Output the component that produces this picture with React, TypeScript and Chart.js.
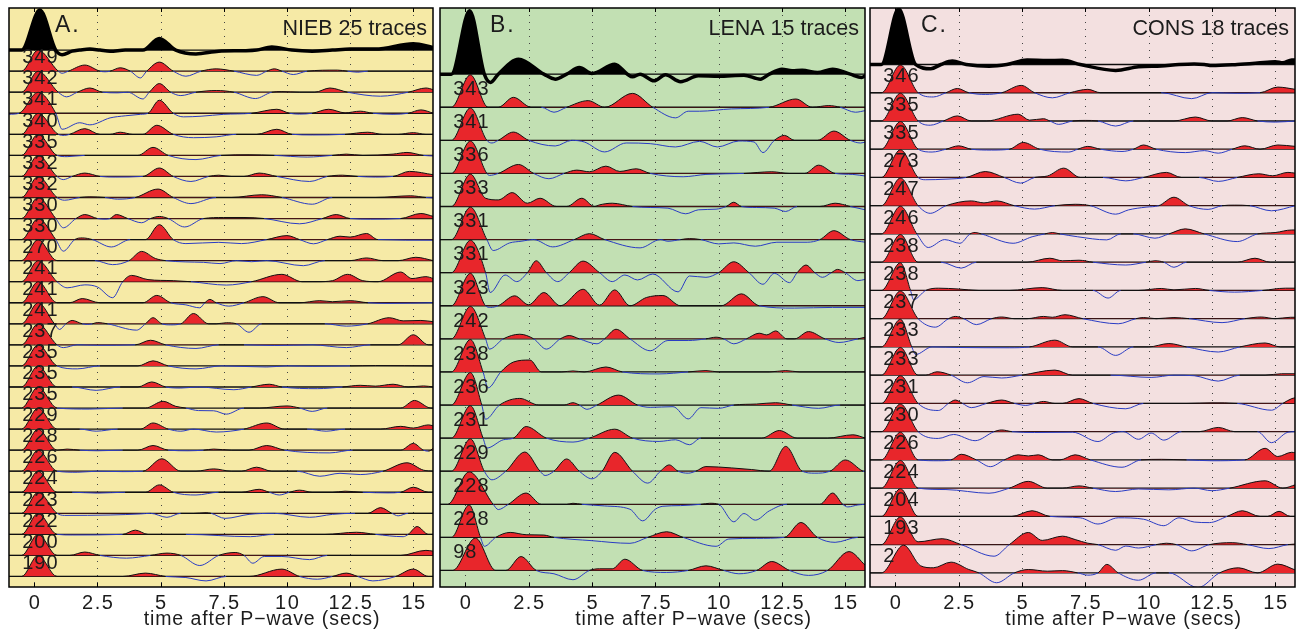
import React, { useEffect, useRef } from "react";
import { Chart, registerables } from "chart.js";
Chart.register(...registerables);

type Pt = [number, number];

// ---------- axis ----------
const xTicks = [0, 2.5, 5, 7.5, 10, 12.5, 15];
const xMin = -1;
const xMax = 15.78;
const xTitle = "time after P\u2212wave (secs)";

// ---------- panel A: NIEB ----------
const niebLabels = ["349", "342", "341", "340", "335", "332", "332", "330", "330", "270", "241", "241", "241", "237", "235", "235", "235", "229", "228", "226", "224", "223", "222", "200", "190"];
const niebStack: Pt[] = [[-1, 0], [-0.5, 0], [0.22, 1.9], [0.85, 0], [1.1, -0.22], [1.5, -0.05], [1.8, 0], [2.2, 0.05], [2.6, 0], [3.0, -0.05], [3.6, 0], [4.3, 0], [4.95, 0.55], [5.6, 0], [6.4, -0.18], [7.3, -0.05], [8.3, -0.03], [8.8, 0], [9.4, 0.15], [10.2, 0], [11, -0.05], [11.8, 0], [12.5, 0.05], [13.5, 0.05], [15, 0.3], [15.8, 0.12]];
const niebTraces: Pt[][] = [
  [[-1, 0], [-0.5, 0], [0.15, 1], [0.95, 0], [1.1, -0.1], [1.35, 0], [2.0, 0.29], [2.6, 0], [2.8, -0.03], [3.0, 0], [3.4, 0.16], [3.8, 0], [4.2, -0.32], [4.45, 0], [4.95, 0.43], [5.5, 0], [6.0, -0.24], [6.6, 0], [7.2, 0.11], [7.9, 0], [8.8, -0.2], [9.2, 0], [9.5, 0.11], [9.8, 0], [10.25, -0.16], [10.8, 0], [12.0, 0.05], [12.4, 0], [12.8, -0.05], [13.2, 0], [15.8, 0]],
  [[-1, 0], [-0.5, 0], [0.15, 1], [0.95, 0], [1.28, -0.22], [1.7, 0], [2.2, 0.2], [2.7, 0], [3.3, -0.03], [3.7, 0], [4.3, -0.32], [4.55, 0], [4.95, 0.41], [5.4, 0], [5.8, -0.16], [6.4, 0], [7.2, 0.08], [7.9, 0], [8.75, -0.3], [9.4, 0], [9.8, 0.03], [10.5, 0], [11.1, 0], [11.7, 0.2], [12.4, 0], [13.7, -0.19], [14.8, 0], [15.5, 0.2], [15.8, 0.12]],
  [[-1, -0.05], [-0.6, 0], [0.15, 1], [0.85, 0], [1.1, -0.76], [1.8, -0.45], [2.2, -0.55], [3.0, -0.22], [3.6, -0.12], [4.2, -0.05], [4.5, 0], [4.95, 0.62], [5.5, 0], [5.9, -0.17], [6.6, -0.14], [7.5, -0.05], [8.6, 0], [9.6, 0.19], [10.1, 0], [10.5, -0.04], [11.0, 0], [11.65, 0.19], [12.3, 0.02], [12.9, 0.1], [13.4, 0], [14.2, -0.05], [14.8, 0], [15.3, 0.16], [15.8, 0]],
  [[-1, 0], [-0.5, 0], [0.15, 1], [0.95, 0], [1.2, -0.05], [1.4, 0], [2.0, 0.27], [2.6, 0], [3.0, 0], [3.4, 0.1], [3.9, 0], [4.3, 0], [4.85, 0.43], [5.5, 0], [6.3, -0.16], [7.2, -0.12], [8.0, 0], [8.8, 0], [9.6, 0.24], [10.2, 0], [11, -0.03], [12.3, 0], [13.2, 0.1], [13.8, 0], [14.4, 0], [15, 0.08], [15.5, 0], [15.8, 0]],
  [[-1, 0], [-0.5, 0], [0.15, 1], [0.9, 0], [1.3, -0.06], [2.0, 0], [4.1, 0], [4.7, 0.38], [5.3, 0], [6.4, -0.2], [7.4, 0], [8.5, 0.03], [9.5, 0], [10.8, -0.08], [11.8, 0], [12.35, 0.06], [13, 0], [14.2, 0.06], [14.75, 0.14], [15.4, 0], [15.8, -0.03]],
  [[-1, 0], [-0.5, 0], [0.15, 1], [0.9, 0], [1.15, -0.15], [1.5, 0], [2.0, 0.16], [2.6, 0], [3.2, -0.03], [4.3, 0], [4.95, 0.4], [5.5, 0], [6.2, -0.24], [6.9, 0], [7.3, 0.06], [7.8, 0], [8.3, 0], [8.9, 0.16], [9.6, 0], [10.9, -0.24], [11.6, 0], [12.2, 0.06], [12.8, 0], [13.5, -0.03], [14.2, 0], [14.85, 0.24], [15.8, 0.08]],
  [[-1, 0], [-0.5, 0], [0.15, 1], [0.9, 0], [1.2, -0.13], [1.8, 0], [2.2, 0.03], [2.8, 0], [3.3, -0.08], [4.0, 0], [4.9, 0.4], [5.5, 0], [6.2, -0.29], [7.2, 0], [7.8, 0], [9.0, 0.13], [9.8, 0], [11.0, -0.32], [11.8, 0], [13.5, 0], [14.9, 0.08], [15.5, 0], [15.8, -0.02]],
  [[-1, 0], [-0.5, 0], [0.15, 1], [0.85, 0], [1.15, -0.44], [1.65, 0], [2.0, 0.19], [2.5, 0], [2.8, -0.03], [3.0, 0], [3.25, 0.19], [3.7, 0], [4.25, -0.2], [4.6, 0], [4.95, 0.1], [5.3, 0], [5.95, -0.4], [6.7, 0], [7.5, 0.05], [8.3, 0.05], [9.1, 0], [10.5, -0.25], [11.4, 0], [11.95, 0.19], [12.5, 0], [13.3, -0.03], [14.5, 0], [15.3, 0.24], [15.8, 0.1]],
  [[-1, 0], [-0.5, 0], [0.15, 1], [0.85, 0], [1.15, -0.55], [1.6, 0], [1.9, 0.08], [2.3, 0], [3.05, -0.35], [3.8, 0], [4.4, 0], [4.95, 0.71], [5.5, 0], [6.0, -0.19], [7.3, -0.13], [8.2, -0.19], [9.2, 0], [10.0, 0.19], [10.5, 0], [11.05, -0.2], [11.6, 0], [12.1, 0.16], [12.5, 0.12], [13.15, 0.29], [13.6, 0], [15.8, -0.03]],
  [[-1, 0], [-0.5, 0], [0.15, 1], [0.9, 0], [1.5, 0], [2.4, 0], [3.1, -0.19], [3.75, 0], [4.25, 0.44], [4.8, 0.1], [5.2, 0], [6.0, -0.06], [6.7, -0.08], [7.35, -0.14], [8.0, 0], [8.6, -0.05], [9.2, 0], [10.65, -0.24], [11.5, 0], [12.5, 0], [13.15, 0.13], [13.8, 0], [14.4, 0], [15.1, 0.16], [15.8, 0]],
  [[-1, 0], [-0.5, 0], [0.15, 1], [0.9, 0], [1.3, -0.29], [2.0, -0.15], [2.5, -0.25], [3.1, -0.76], [3.5, 0], [3.85, 0.3], [4.5, 0.1], [5.5, 0.05], [6.2, 0], [7.6, -0.16], [8.6, 0], [9.8, 0.35], [10.6, 0], [11.2, 0], [11.8, 0.05], [12.4, 0.35], [13, 0.05], [13.6, 0], [14.5, 0.46], [14.95, 0.15], [15.5, 0.24], [15.8, 0.15]],
  [[-1, 0], [-0.5, 0], [0.15, 1], [0.9, 0], [1.4, 0], [1.9, 0.2], [2.6, 0], [4.3, 0], [4.85, 0.35], [5.4, 0], [6.0, -0.1], [6.55, -0.24], [6.75, 0], [6.95, 0.16], [7.2, 0], [7.7, -0.16], [8.3, 0], [9.05, 0.29], [9.7, 0], [10.5, 0], [11.3, 0.1], [11.8, 0.05], [12.5, 0.1], [13.2, 0], [14.0, -0.03], [15.8, 0]],
  [[-1, 0], [-0.5, 0], [0.15, 1], [0.8, 0], [1.0, -0.27], [1.25, 0], [1.5, 0.16], [1.9, 0], [2.1, -0.03], [2.3, 0], [2.5, 0.06], [2.9, 0], [4.05, -0.3], [4.4, 0], [4.7, 0.29], [5.05, 0], [5.4, -0.05], [5.8, 0], [6.3, 0.49], [6.9, 0], [7.2, 0], [7.6, 0.05], [8.0, 0], [8.5, -0.4], [9.0, 0], [11.5, 0], [12.35, -0.11], [13.2, 0], [14.05, 0.29], [14.6, 0.14], [15.3, 0.16], [15.8, 0.1]],
  [[-1, 0], [-0.5, 0], [0.15, 1], [0.9, 0], [1.15, -0.13], [1.7, 0], [2.5, -0.02], [4.0, 0], [4.6, 0.22], [5.2, 0], [6.4, -0.17], [7.3, 0], [8.3, 0], [9.5, -0.03], [11, 0], [12.35, -0.13], [13.3, 0], [14.4, 0], [15.0, 0.48], [15.6, 0], [15.8, 0]],
  [[-1, 0], [-0.5, 0], [0.15, 1], [0.9, 0], [1.7, -0.14], [2.6, 0], [4.1, 0], [4.7, 0.24], [5.3, 0], [6.4, -0.14], [7.4, 0], [9.2, -0.05], [10, 0], [11, -0.02], [12.5, 0], [13.5, 0.02], [15.8, 0]],
  [[-1, 0], [-0.5, 0], [0.15, 1], [0.9, 0], [1.5, 0], [2.45, -0.16], [3.4, 0], [4.1, 0], [4.65, 0.24], [5.2, 0], [5.8, -0.05], [6.5, 0], [7.9, -0.13], [8.6, 0], [9.3, 0.13], [9.8, 0], [11.2, -0.08], [12.2, 0], [12.9, 0.08], [13.5, 0.04], [14.2, 0.13], [14.8, 0], [15.4, 0.05], [15.8, 0]],
  [[-1, 0], [-0.5, 0], [0.15, 1], [0.9, 0], [2.2, -0.05], [3.5, 0], [4.4, 0], [5.1, 0.32], [5.6, 0.08], [6.0, 0], [6.5, -0.12], [7.1, -0.13], [7.6, -0.29], [8.3, 0], [8.9, 0], [10.0, 0.1], [10.5, 0], [11.0, -0.16], [11.6, 0], [14.5, 0], [15.05, 0.36], [15.7, 0], [15.8, 0]],
  [[-1, 0], [-0.5, 0], [0.15, 1], [0.9, 0], [1.8, 0], [2.45, -0.1], [3.3, 0], [4.2, 0], [4.7, 0.29], [5.3, 0], [5.8, -0.1], [6.3, 0], [7.2, -0.14], [8.3, 0], [9.2, 0.29], [9.9, 0], [10.8, 0], [11.55, -0.1], [12.3, 0], [13.7, 0], [14.5, 0.13], [15.0, 0.05], [15.6, 0.2], [15.8, 0.15]],
  [[-1, 0], [-0.5, 0], [0.15, 1], [0.9, 0], [1.3, 0.05], [1.8, 0], [2.5, -0.03], [3.5, 0], [4.1, 0], [4.7, 0.22], [5.3, 0], [6.1, -0.03], [6.7, 0], [7.1, 0.05], [7.8, 0], [8.5, 0], [9.2, 0.22], [9.9, 0], [11.7, -0.13], [12.6, 0], [14.5, 0], [15.0, 0.32], [15.4, 0], [15.6, -0.05], [15.8, 0.1]],
  [[-1, 0], [-0.5, 0], [0.15, 1], [0.9, 0], [1.7, -0.05], [2.5, 0], [3.5, -0.02], [4.3, 0], [5.05, 0.59], [5.8, 0], [6.4, 0], [7.1, 0.11], [7.8, 0], [8.2, 0], [8.8, 0.19], [9.4, 0], [10.4, 0], [11.3, -0.24], [12.1, -0.1], [12.9, -0.16], [13.8, 0], [14.75, 0.4], [15.4, 0.05], [15.8, 0]],
  [[-1, 0], [-0.5, 0], [0.15, 1], [0.9, 0], [1.5, 0], [2.5, -0.04], [3.6, 0], [4.4, 0], [4.95, 0.35], [5.5, 0], [6.4, -0.13], [7.3, 0], [8.2, 0], [8.9, 0.14], [9.3, 0], [9.7, -0.13], [10.1, 0], [10.5, 0.1], [11, 0], [11.8, 0], [12.3, 0.05], [13, 0], [14.0, -0.03], [14.5, 0], [15.0, 0.24], [15.6, 0], [15.8, 0]],
  [[-1, 0], [-0.5, 0], [0.15, 1], [0.9, 0], [1.2, -0.1], [3.0, -0.08], [4.2, -0.03], [4.6, 0], [5.25, -0.19], [5.8, 0], [6.3, 0], [6.8, 0.03], [7.0, 0], [7.55, -0.24], [8.5, -0.05], [9.5, 0], [10.9, -0.19], [11.8, -0.05], [12.7, 0], [13.2, 0], [13.7, 0.27], [14.15, 0], [14.4, -0.12], [14.8, 0], [15.8, 0]],
  [[-1, 0], [-0.5, 0], [0.15, 1], [0.9, 0], [1.5, -0.03], [3.5, 0], [4.0, 0.2], [4.5, 0], [6.0, 0], [8.55, -0.11], [9.5, 0], [11.5, 0], [12.75, 0.1], [13.5, 0], [14.6, -0.11], [14.8, 0], [15.15, 0.37], [15.6, 0], [15.8, 0]],
  [[-1, 0], [-0.5, 0], [0.15, 1], [0.9, 0], [1.4, 0], [2.0, 0.16], [2.6, 0], [3.65, -0.13], [4.6, 0], [5.25, 0.11], [5.8, 0], [6.55, -0.48], [7.3, 0], [7.95, 0.14], [8.3, 0], [8.65, -0.37], [9.1, -0.05], [9.8, -0.05], [10.9, -0.2], [11.6, 0], [14.5, 0], [15.5, 0.24], [15.8, 0.2]],
  [[-1, 0], [-0.5, 0], [0.15, 1], [0.9, 0], [2, 0], [3.5, 0], [4.4, 0.16], [5.2, 0], [6.0, -0.05], [6.8, -0.21], [7.6, 0], [8.5, 0], [9.8, 0.35], [10.5, 0], [11.2, -0.13], [11.8, 0], [12.35, 0.16], [12.8, 0], [13.4, -0.21], [14.3, 0], [15.0, 0.35], [15.6, 0], [15.8, 0]],
];

// ---------- panel B: LENA ----------
const lenaLabels = ["343", "341", "336", "333", "331", "331", "323", "242", "238", "236", "231", "229", "228", "228", "98"];
const lenaStack: Pt[] = [[-1, 0], [-0.55, 0], [0.17, 1.92], [0.75, 0], [1.0, -0.25], [1.3, 0], [2.1, 0.45], [3.1, 0], [3.55, -0.15], [4.0, 0], [4.5, 0.2], [5.0, 0.02], [5.9, 0.3], [6.4, 0], [6.6, -0.08], [6.9, 0], [7.45, -0.2], [7.9, -0.02], [8.5, -0.23], [9.2, -0.05], [10, -0.06], [11, -0.03], [11.65, -0.15], [12.0, 0], [12.5, 0.15], [12.9, 0.1], [13.3, 0.12], [13.9, 0.05], [14.5, 0.15], [15.2, 0], [15.65, -0.1], [15.8, -0.05]];
const lenaTraces: Pt[][] = [
  [[-1, 0], [-0.55, 0], [0.2, 0.98], [0.9, 0], [1.3, 0], [1.9, 0.3], [2.6, 0], [3.0, 0], [3.5, -0.15], [4.0, 0], [4.85, 0.2], [5.5, 0], [6.6, 0.42], [7.4, 0], [8.3, -0.32], [8.8, -0.12], [9.25, -0.12], [10.5, -0.05], [12, 0], [13.05, 0.25], [13.7, 0], [14.35, 0.05], [14.8, 0], [15.4, -0.15], [15.8, -0.1]],
  [[-1, 0], [-0.55, 0], [0.2, 0.98], [0.85, 0], [1.05, -0.08], [1.3, 0], [1.9, 0.25], [2.5, 0], [3.55, -0.17], [4.2, 0], [4.7, -0.05], [5.5, -0.35], [6.35, -0.08], [7.3, -0.1], [8.3, -0.2], [9.25, -0.03], [9.95, -0.2], [10.8, -0.02], [11.4, -0.05], [11.75, -0.37], [12.2, 0], [12.6, 0.15], [13.0, 0], [13.9, 0], [14.55, 0.28], [15.2, 0], [15.6, -0.08], [15.8, -0.05]],
  [[-1, 0], [-0.55, 0], [0.2, 0.98], [0.85, 0], [0.95, -0.06], [1.3, 0], [2.1, 0.27], [2.7, 0], [3.3, -0.16], [3.9, 0], [4.4, 0.1], [4.9, 0.05], [5.55, 0.22], [6.1, 0.06], [6.75, 0.14], [7.3, 0], [8.6, -0.1], [9.5, -0.03], [11.0, 0], [12.1, 0.05], [12.8, 0], [13.4, 0], [13.95, 0.25], [14.6, 0], [15.3, -0.03], [15.8, -0.08]],
  [[-1, 0], [-0.55, 0], [0.2, 0.98], [0.8, 0.25], [1.3, 0.2], [1.85, 0.42], [2.45, 0.1], [2.95, 0.25], [3.6, 0], [4.0, 0], [4.6, 0.25], [5.1, 0], [5.3, 0.05], [5.8, 0.1], [6.6, 0], [7.3, -0.03], [8.0, -0.05], [8.7, -0.22], [9.2, -0.1], [9.9, -0.08], [10.3, 0], [10.6, 0.13], [10.9, 0], [11.5, -0.03], [12.2, -0.05], [12.65, -0.15], [13.1, 0], [14.0, 0], [14.6, 0.1], [15.2, 0], [15.8, -0.1]],
  [[-1, 0], [-0.55, 0], [0.2, 0.98], [0.85, 0], [1.1, -0.33], [1.75, -0.1], [2.2, -0.05], [2.7, 0], [3.45, -0.22], [4.3, 0], [4.9, 0.18], [5.5, 0], [6.9, -0.25], [7.7, 0], [8.0, -0.05], [8.5, 0], [8.85, 0.03], [9.3, 0], [10.0, -0.13], [10.6, -0.1], [11.45, -0.2], [12.3, -0.08], [13.5, -0.08], [14.0, 0], [14.55, 0.27], [15.2, 0], [15.8, -0.08]],
  [[-1, 0], [-0.55, 0], [0.2, 0.98], [0.8, 0], [0.98, -0.6], [1.57, -0.07], [2.03, -0.27], [2.45, 0], [2.8, 0.36], [3.2, 0], [3.65, -0.27], [4.1, 0], [4.65, 0.35], [5.3, 0], [5.8, -0.27], [6.3, -0.07], [6.8, -0.22], [7.4, -0.04], [8.4, -0.58], [8.85, -0.1], [9.5, -0.14], [10.0, 0], [10.6, 0.33], [11.2, 0], [11.75, -0.35], [12.2, -0.02], [12.8, -0.3], [13.1, 0], [13.45, 0.23], [13.8, 0], [14.1, -0.14], [14.45, 0], [14.7, 0.1], [15.0, 0], [15.5, -0.24], [15.8, -0.2]],
  [[-1, 0], [-0.55, 0], [0.2, 0.98], [0.8, 0], [1.0, -0.05], [1.3, 0], [1.95, 0.3], [2.5, 0.03], [3.1, 0.4], [3.75, 0], [4.65, 0.5], [5.3, 0.02], [5.9, 0.48], [6.5, 0], [7.15, 0.25], [7.8, 0.31], [8.5, 0], [10.1, 0], [10.9, 0.36], [11.6, 0], [13.0, -0.07], [14.5, -0.05], [15.8, -0.05]],
  [[-1, 0], [-0.55, 0], [0.2, 0.98], [0.8, 0], [0.95, -0.31], [1.5, 0], [2.15, 0.14], [2.7, 0], [3.2, -0.31], [3.75, 0], [4.1, 0.1], [4.5, 0], [5.2, -0.15], [5.5, 0], [5.95, 0.29], [6.5, 0], [7.3, -0.36], [8.0, -0.05], [8.8, -0.05], [9.5, 0], [9.9, 0.05], [10.2, 0], [10.6, -0.15], [11.1, 0], [11.6, 0.17], [11.9, 0.12], [12.25, 0.24], [12.7, 0], [13.0, 0], [13.55, 0.22], [14.2, 0], [14.75, -0.11], [15.5, 0], [15.8, 0.05]],
  [[-1, 0], [-0.55, 0], [0.2, 0.98], [0.7, 0], [0.9, -0.48], [1.4, 0], [1.9, 0.3], [2.55, 0.36], [3.0, 0], [3.8, 0], [4.25, 0.03], [4.7, 0], [5.55, 0.15], [6.2, 0], [7.65, -0.06], [8.8, 0], [9.5, 0.04], [10, 0], [12.0, 0], [12.65, 0.04], [13.2, 0], [15.8, 0]],
  [[-1, 0], [-0.55, 0], [0.2, 0.98], [0.65, 0], [0.8, -0.43], [1.35, 0], [2.15, 0.2], [2.9, 0], [3.9, 0], [4.25, 0.07], [4.5, 0], [4.8, -0.13], [5.2, 0], [6.05, 0.3], [6.8, 0], [7.3, -0.07], [8.2, -0.05], [8.8, -0.42], [9.3, -0.08], [10.0, -0.1], [10.6, 0], [11.5, 0.03], [12.25, 0.07], [12.9, 0], [13.95, -0.1], [14.8, 0], [15.8, 0]],
  [[-1, 0], [-0.55, 0], [0.2, 0.98], [0.7, 0], [0.85, -0.3], [1.5, -0.05], [1.9, 0], [2.4, 0.35], [3.2, 0], [4.25, -0.12], [4.9, 0], [5.9, 0.27], [6.6, 0], [7.65, -0.1], [8.3, -0.05], [8.85, -0.2], [9.3, 0], [11.7, 0], [12.4, 0.23], [13.1, 0], [14.3, 0], [15.3, 0.1], [15.8, 0]],
  [[-1, 0], [-0.55, 0], [0.2, 0.98], [0.75, 0], [1.05, -0.26], [1.6, 0], [2.35, 0.58], [2.95, 0], [3.15, -0.13], [3.5, 0], [4.0, 0.37], [4.5, 0], [5.0, -0.23], [5.4, 0], [5.9, 0.57], [6.6, 0], [7.2, -0.36], [7.7, 0], [8.05, 0.19], [8.4, 0], [8.8, -0.06], [9.1, 0], [9.5, 0.14], [10.5, 0.1], [11.3, 0.05], [12.0, 0], [12.65, 0.75], [13.3, 0], [13.8, -0.06], [14.4, 0], [15.0, 0.34], [15.7, 0], [15.8, -0.02]],
  [[-1, 0], [-0.7, 0], [0.15, 0.98], [1.1, 0], [1.3, -0.16], [1.7, 0], [2.4, 0.34], [3.0, 0], [4.0, 0], [4.25, 0.03], [4.6, 0], [5.5, -0.05], [6.5, -0.15], [7.0, -0.5], [7.5, -0.15], [7.8, -0.06], [8.5, -0.04], [9.3, 0], [9.65, 0.03], [10.0, 0], [10.6, -0.53], [11.0, -0.28], [11.45, -0.48], [12.0, -0.2], [12.7, 0], [14.0, 0], [14.5, 0.34], [14.9, 0], [15.1, -0.08], [15.5, -0.02], [15.8, 0]],
  [[-1, 0], [-0.55, 0], [0.15, 0.98], [0.6, 0], [0.75, -0.27], [1.2, 0], [1.77, 0.15], [2.4, 0.08], [3.1, 0.07], [3.5, 0], [5.0, -0.1], [6.5, -0.18], [7.2, 0], [7.95, 0.17], [8.6, 0], [9.9, -0.27], [10.4, -0.05], [11.5, -0.03], [12.6, 0], [13.25, 0.45], [13.9, 0], [14.6, -0.15], [15.5, 0], [15.8, 0]],
  [[-1, 0], [-0.5, 0], [0.4, 0.98], [1.2, 0], [1.6, 0], [2.2, 0.42], [2.8, 0], [3.5, -0.1], [4.25, -0.28], [4.9, 0], [5.3, 0.05], [5.8, 0.05], [6.3, 0.34], [7.0, 0], [7.95, -0.06], [8.8, 0], [9.5, 0.14], [10.2, 0], [10.8, -0.1], [11.5, 0], [12.1, 0.27], [12.8, 0], [13.55, -0.15], [14.3, 0], [15.15, 0.57], [15.8, 0.15]],
];

// ---------- panel C: CONS ----------
const consLabels = ["346", "335", "335", "273", "247", "246", "238", "238", "237", "233", "233", "231", "230", "226", "224", "204", "193", "2"];
const consStack: Pt[] = [[-1, 0], [-0.55, 0], [0.13, 1.97], [0.8, 0], [1.4, -0.15], [1.8, 0], [2.25, 0.12], [2.8, 0], [3.7, -0.06], [4.4, 0], [5.2, 0.16], [6.0, 0.14], [6.6, 0.15], [7.3, 0], [8.7, -0.21], [9.6, -0.08], [10.5, -0.05], [11.2, 0], [11.8, 0.02], [12.2, 0], [12.5, -0.04], [13.5, 0], [14.3, 0.05], [15.0, 0.1], [15.3, 0.06], [15.65, 0.16], [15.8, 0.16]];
const consTraces: Pt[][] = [
  [[-1, 0], [-0.55, 0], [0.2, 0.98], [0.9, 0], [1.5, -0.15], [2.0, 0], [2.45, 0.15], [2.9, 0], [3.55, -0.06], [4.2, 0], [4.97, 0.26], [5.5, 0], [6.2, -0.18], [6.9, 0], [7.6, 0.12], [8.1, 0], [9.0, 0], [10.5, 0], [11.7, -0.21], [12.5, 0], [13.5, -0.02], [14.4, 0], [15.1, 0.2], [15.8, 0.12]],
  [[-1, 0], [-0.55, 0], [0.2, 0.98], [0.9, 0], [1.38, -0.15], [1.9, 0], [2.45, 0.18], [3.0, 0], [3.6, 0], [4.85, 0.24], [5.3, 0.03], [5.85, 0.08], [6.1, 0], [6.45, -0.12], [7.0, 0], [7.5, 0.02], [8.0, 0], [8.7, -0.18], [9.4, 0], [11.0, 0], [11.85, 0.14], [12.5, 0], [13.1, 0], [13.7, 0.12], [14.3, 0], [15, -0.04], [15.8, 0]],
  [[-1, 0], [-0.55, 0], [0.2, 0.98], [0.9, 0], [1.45, -0.1], [2.0, 0], [2.5, 0.12], [3.0, 0], [3.8, -0.03], [4.5, 0], [5.05, 0.24], [5.7, 0], [6.85, -0.1], [7.2, 0], [7.6, 0.1], [8.1, 0], [8.95, -0.08], [9.4, 0], [9.8, 0.15], [10.3, 0], [11.45, -0.12], [12.2, -0.05], [12.75, -0.14], [13.3, 0], [13.8, 0.12], [14.4, 0], [15.1, 0.15], [15.8, 0.1]],
  [[-1, 0], [-0.55, 0], [0.2, 0.98], [0.9, 0], [1.2, -0.08], [2.0, -0.06], [2.8, 0], [3.55, 0.21], [4.3, 0], [4.95, -0.2], [5.5, 0], [6.0, 0.05], [6.65, 0.33], [7.3, 0], [8.2, 0], [9.1, -0.12], [9.8, 0], [10.7, 0.18], [11.3, 0], [12.0, 0], [12.75, -0.14], [13.5, 0], [14.35, 0.13], [14.9, 0.06], [15.5, 0.18], [15.8, 0.15]],
  [[-1, 0], [-0.55, 0], [0.2, 0.98], [0.9, 0], [1.38, -0.27], [2.0, 0], [3.0, 0.17], [3.5, 0.1], [4.0, 0.17], [4.7, 0], [5.5, -0.12], [6.3, 0], [7.1, 0.05], [7.7, 0], [8.7, -0.3], [9.2, -0.15], [9.9, -0.05], [10.4, 0], [11.0, 0.3], [11.6, 0], [12.35, -0.13], [12.9, 0], [13.4, 0.02], [14.0, 0], [14.85, -0.18], [15.8, 0]],
  [[-1, 0], [-0.55, 0], [0.2, 0.98], [0.85, 0], [1.3, -0.48], [1.95, -0.2], [2.55, -0.33], [2.95, 0], [3.15, 0.05], [3.4, 0], [4.65, -0.33], [5.4, -0.1], [5.9, 0], [6.2, 0.05], [6.5, 0], [7.2, -0.1], [8.35, -0.21], [8.9, 0], [9.4, 0], [10.25, -0.15], [10.8, 0], [11.45, 0.18], [12.2, 0], [13.5, -0.27], [14.3, 0], [15.0, 0.05], [15.65, 0.14], [15.8, 0.14]],
  [[-1, 0], [-0.55, 0], [0.2, 0.98], [0.9, 0], [1.8, 0], [2.6, -0.21], [3.2, 0], [5.2, 0], [6.1, 0.14], [6.6, 0.05], [7.25, 0.07], [7.8, 0], [9.1, -0.1], [9.9, 0], [10.25, 0.05], [10.6, 0], [11.0, -0.18], [11.5, 0], [13.5, 0], [14.2, 0.14], [14.8, 0], [15.8, 0]],
  [[-1, 0], [-0.55, 0], [0.2, 0.98], [0.6, 0], [0.72, -0.33], [1.2, 0], [1.7, 0.08], [2.5, 0.05], [3.3, 0], [4.5, 0], [5.8, 0.1], [6.6, 0], [7.8, 0], [8.4, -0.27], [8.9, 0], [9.6, 0], [10.5, 0.07], [11.0, 0.02], [11.85, 0.07], [12.4, 0], [13.4, -0.06], [14.5, 0], [15.4, 0.08], [15.8, 0.08]],
  [[-1, 0], [-0.55, 0], [0.2, 0.98], [0.9, 0], [1.58, -0.3], [2.1, 0], [2.37, 0.08], [2.7, 0], [3.2, -0.21], [3.8, 0], [4.2, 0.06], [4.7, 0], [5.2, 0], [5.85, 0.08], [6.2, 0.05], [6.7, 0.14], [7.4, 0], [8.8, -0.18], [9.5, 0], [9.8, 0.04], [10.3, 0], [11.0, 0.04], [11.6, 0], [12.9, -0.14], [13.8, 0], [14.45, 0.06], [15.0, 0], [15.6, 0.05], [15.8, 0.05]],
  [[-1, 0], [-0.55, 0], [0.2, 0.98], [0.65, 0], [0.8, -0.27], [1.45, 0], [2.5, -0.02], [4.5, -0.03], [5.3, 0], [6.3, 0.24], [7.0, 0], [8.0, 0], [8.7, -0.3], [9.4, 0], [10.0, 0], [10.8, 0.12], [11.5, 0], [12.75, -0.18], [13.6, 0], [14.6, 0.14], [15.2, 0], [15.8, 0]],
  [[-1, 0], [-0.55, 0], [0.2, 0.98], [0.9, 0], [1.2, 0], [1.65, 0.12], [2.2, 0], [2.85, -0.27], [3.5, -0.05], [4.2, -0.1], [5.0, 0], [6.3, 0.18], [7.0, 0], [8.5, 0], [10.1, -0.08], [11, 0], [11.8, -0.02], [12.75, -0.21], [13.6, 0], [14.6, 0], [15.25, 0.05], [15.8, 0.05]],
  [[-1, 0], [-0.55, 0], [0.2, 0.98], [0.9, 0], [1.7, -0.25], [2.1, 0], [2.37, 0.12], [2.65, 0], [3.0, -0.15], [3.6, 0], [4.2, 0.12], [4.7, 0], [5.15, -0.07], [5.5, 0], [5.85, 0.07], [6.3, 0], [6.6, 0], [7.25, 0.17], [7.8, 0], [9.1, -0.19], [9.8, 0], [11.5, 0], [12.5, 0.02], [13.5, 0], [14.85, -0.24], [15.3, 0], [15.65, 0.17], [15.8, 0.2]],
  [[-1, 0], [-0.55, 0], [0.2, 0.98], [0.9, 0], [1.7, -0.24], [2.3, -0.1], [3.15, -0.32], [3.9, 0], [4.2, 0.06], [4.6, 0], [5.5, -0.03], [7.0, -0.02], [8.0, -0.35], [8.6, -0.05], [9.0, 0], [9.6, -0.27], [10.1, -0.05], [10.6, -0.3], [11.3, 0], [12.0, 0], [12.75, 0.15], [13.4, 0], [14.3, 0], [14.85, -0.39], [15.5, -0.02], [15.8, 0]],
  [[-1, 0], [-0.55, 0], [0.2, 0.98], [0.9, 0], [1.7, -0.03], [2.2, 0], [2.6, 0.2], [3.2, 0], [3.75, -0.24], [4.3, 0], [4.85, 0.18], [5.25, 0.14], [5.65, 0.18], [6.2, 0], [6.5, 0], [7.1, 0.18], [7.7, 0], [8.95, -0.26], [9.7, 0], [10.5, 0.02], [11.5, 0], [12.5, -0.03], [13.8, 0], [14.6, 0.41], [15.1, 0.12], [15.65, 0.27], [15.8, 0.25]],
  [[-1, 0], [-0.55, 0], [0.2, 0.98], [0.9, 0], [2.0, -0.05], [3.7, -0.18], [4.5, 0], [5.25, 0.24], [6.0, 0], [6.6, 0], [7.25, 0.08], [7.8, 0], [8.7, -0.12], [9.6, -0.03], [10.8, -0.06], [11.8, 0], [12.5, -0.09], [13.2, 0], [14.6, 0.26], [15.3, 0], [15.8, 0.12]],
  [[-1, 0], [-0.55, 0], [0.2, 0.98], [0.9, 0], [3, 0], [4.6, 0], [5.4, 0.2], [6.1, 0], [7.3, -0.05], [8.0, -0.27], [8.8, -0.05], [9.8, -0.1], [10.6, -0.33], [11.2, -0.05], [11.8, -0.2], [12.4, -0.22], [13.1, 0], [13.7, 0.2], [14.4, 0], [14.7, 0], [15.15, 0.18], [15.6, 0], [15.8, 0]],
  [[-1, 0], [-0.55, 0], [0.2, 0.98], [0.9, 0.1], [1.85, 0.21], [2.6, 0], [3.9, -0.41], [4.5, 0], [5.25, 0.43], [5.8, 0.15], [6.6, 0.3], [7.1, 0.18], [7.6, 0.05], [8.0, 0], [8.7, -0.2], [9.1, -0.05], [9.6, -0.12], [10.3, 0], [10.7, 0.05], [11.1, 0], [11.7, -0.22], [12.4, 0], [13.3, 0.07], [13.9, 0], [14.75, -0.14], [15.5, 0], [15.8, 0.02]],
  [[-1, 0], [-0.55, 0], [0.33, 0.98], [1.0, 0.25], [1.5, 0.18], [2.2, 0.38], [2.9, 0.12], [3.3, 0], [4.0, -0.35], [4.7, 0], [5.25, 0.12], [6.0, 0.06], [6.6, 0.08], [7.2, 0], [7.6, -0.08], [8.0, 0], [8.35, 0.3], [8.8, 0], [9.6, -0.26], [10.3, 0], [10.8, 0], [11.95, -0.52], [12.8, 0], [13.55, 0.18], [14.3, 0], [15.1, 0.31], [15.8, 0.1]],
];

// ---------- styling ----------
const RED = "#e8262b";
const BLUE = "#2a3cc4";
const INK = "#111111";
const TEXT = "#1c1c1c";
const FONT = "'Liberation Sans', Arial, Helvetica, sans-serif";
const PAD = 8;
const TOP = 8;
const BOTTOM_SPACE = 44;
const H = 631;

type PanelCfg = {
  letter: string;
  heading: string;
  bg: string;
  labels: string[];
  stack: Pt[];
  traces: Pt[][];
  left: number;
  right: number;
  letterDx: number;
};

const PANELS: PanelCfg[] = [
  { letter: "A.", heading: "NIEB 25 traces", bg: "#f6eaa6", labels: niebLabels, stack: niebStack, traces: niebTraces, left: 9, right: 433, letterDx: 46 },
  { letter: "B.", heading: "LENA 15 traces", bg: "#c2e0b3", labels: lenaLabels, stack: lenaStack, traces: lenaTraces, left: 440, right: 865, letterDx: 50 },
  { letter: "C.", heading: "CONS 18 traces", bg: "#f3e0e0", labels: consLabels, stack: consStack, traces: consTraces, left: 870, right: 1295, letterDx: 51 },
];

function makeDecor(p: PanelCfg) {
  const N = p.traces.length;
  return {
    id: "decor",
    beforeDraw(chart: any) {
      const { ctx, chartArea: a } = chart;
      ctx.save();
      ctx.fillStyle = p.bg;
      ctx.fillRect(a.left, a.top, a.right - a.left, a.bottom - a.top);
      ctx.restore();
    },
    beforeDatasetsDraw(chart: any) {
      const { ctx, chartArea: a, scales } = chart;
      ctx.save();
      // dotted vertical grid
      ctx.strokeStyle = "#444";
      ctx.lineWidth = 1;
      ctx.setLineDash([1, 6]);
      for (const v of xTicks) {
        const x = Math.round(scales.x.getPixelForValue(v)) + 0.5;
        ctx.beginPath();
        ctx.moveTo(x, a.top);
        ctx.lineTo(x, a.bottom);
        ctx.stroke();
      }
      ctx.setLineDash([]);
      // baselines
      ctx.strokeStyle = INK;
      ctx.lineWidth = 1.3;
      for (let k = 0; k <= N; k++) {
        const y = scales.y.getPixelForValue(-k);
        ctx.beginPath();
        ctx.moveTo(a.left, y);
        ctx.lineTo(a.right, y);
        ctx.stroke();
      }
      ctx.restore();
    },
    beforeDatasetDraw(chart: any, args: any) {
      if (args.index !== 0) return;
      const { ctx, scales } = chart;
      ctx.save();
      ctx.fillStyle = TEXT;
      ctx.font = `20px ${FONT}`;
      (ctx as any).letterSpacing = "1px";
      ctx.textAlign = "left";
      ctx.textBaseline = "alphabetic";
      const x = scales.x.getPixelForValue(-0.48);
      p.labels.forEach((lab, i) => {
        const k = i + 1;
        ctx.fillText(lab, x, scales.y.getPixelForValue(-k + 0.37));
      });
      ctx.restore();
    },
    afterDraw(chart: any) {
      const { ctx, chartArea: a, scales } = chart;
      ctx.save();
      // frame
      ctx.strokeStyle = "#000";
      ctx.lineWidth = 1.5;
      ctx.strokeRect(a.left, a.top, a.right - a.left, a.bottom - a.top);
      // tick marks
      ctx.lineWidth = 1;
      for (const v of xTicks) {
        const x = Math.round(scales.x.getPixelForValue(v)) + 0.5;
        ctx.beginPath();
        ctx.moveTo(x, a.bottom);
        ctx.lineTo(x, a.bottom - 4);
        ctx.moveTo(x, a.top);
        ctx.lineTo(x, a.top + 4);
        ctx.stroke();
      }
      // tick labels
      ctx.fillStyle = TEXT;
      ctx.font = `20px ${FONT}`;
      (ctx as any).letterSpacing = "1.5px";
      ctx.textAlign = "center";
      ctx.textBaseline = "alphabetic";
      for (const v of xTicks) {
        const x = scales.x.getPixelForValue(v) + 0.75;
        ctx.fillText(String(v), x, a.bottom + 21.5);
      }
      // axis title
      (ctx as any).letterSpacing = "0.9px";
      ctx.font = `19.5px ${FONT}`;
      ctx.fillText(xTitle, (a.left + a.right) / 2 + 41, a.bottom + 38);
      // heading
      (ctx as any).letterSpacing = "0px";
      ctx.font = `21.5px ${FONT}`;
      ctx.textAlign = "right";
      ctx.fillText(p.heading, a.right - 6, a.top + 27);
      // letter
      (ctx as any).letterSpacing = "2px";
      ctx.font = `23px ${FONT}`;
      ctx.textAlign = "left";
      ctx.fillText(p.letter, a.left + p.letterDx, a.top + 23.5);
      ctx.restore();
    },
  };
}

function Panel({ p }: { p: PanelCfg }) {
  const ref = useRef<HTMLCanvasElement | null>(null);
  useEffect(() => {
    if (!ref.current) return;
    const N = p.traces.length;
    const datasets: any[] = [];
    datasets.push({
      data: p.stack.map(([t, a]) => ({ x: t, y: a })),
      borderColor: "#000",
      borderWidth: 3.5,
      pointRadius: 0,
      cubicInterpolationMode: "monotone",
      fill: { target: { value: 0 }, above: "#000", below: "rgba(0,0,0,0)" },
      order: -1,
    });
    p.traces.forEach((tr, i) => {
      const k = i + 1;
      const base = -k;
      datasets.push({
        data: tr.map(([t, a]) => ({ x: t, y: a - k })),
        borderColor: INK,
        borderWidth: 1,
        pointRadius: 0,
        cubicInterpolationMode: "monotone",
        fill: { target: { value: base }, above: RED, below: "rgba(0,0,0,0)" },
        segment: {
          borderColor: (c: any) => {
            const y0 = c.p0.parsed.y;
            const y1 = c.p1.parsed.y;
            const neg = Math.max(y0, y1) <= base + 1e-9 && Math.min(y0, y1) < base - 1e-9;
            return neg ? BLUE : INK;
          },
        },
        order: N - k,
      });
    });
    const chart = new Chart(ref.current, {
      type: "line",
      data: { datasets },
      options: {
        responsive: false,
        animation: false,
        events: [],
        layout: { padding: { left: PAD, right: PAD, top: TOP, bottom: BOTTOM_SPACE } },
        scales: {
          x: { type: "linear", min: xMin, max: xMax, display: false },
          y: { type: "linear", min: -(N + 0.5), max: 2, display: false },
        },
        plugins: { legend: { display: false }, tooltip: { enabled: false }, title: { display: false } },
      },
      plugins: [makeDecor(p)],
    } as any);
    return () => chart.destroy();
  }, [p]);
  const w = p.right - p.left + 2 * PAD;
  return (
    <canvas
      ref={ref}
      width={w}
      height={H}
      style={{ position: "absolute", left: p.left - PAD, top: 0, width: w, height: H }}
    />
  );
}

export default function App() {
  return (
    <div style={{ position: "absolute", left: 0, top: 0, width: 1298, height: 631, overflow: "hidden", background: "#fff" }}>
      {PANELS.map((p) => (
        <Panel key={p.heading} p={p} />
      ))}
    </div>
  );
}
